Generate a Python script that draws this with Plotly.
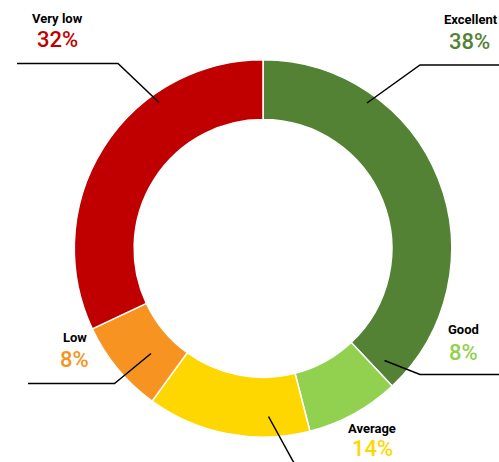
import plotly.graph_objects as go

# Data
categories = ["Excellent", "Good", "Average", "Low", "Very low"]
values = [38, 8, 14, 8, 32]
colors = ["#548235", "#92D050", "#FFD700", "#F79421", "#C00000"]

W, H = 499, 462
FONT = "Roboto, Liberation Sans Narrow, DejaVu Sans Condensed, sans-serif"

def px(x):
    return x / W

def py(y):
    return 1 - y / H

# Layout for labels (pixel positions of name / percent text and leader lines)
label_layout = {
    "Very low": {"name": (57, 18.5), "pct": (57, 40), "line": [(17, 63.5), (118, 63.5), (159, 102.5)]},
    "Excellent": {"name": (470.5, 20), "pct": (469.5, 41.5), "line": [(500, 65), (420, 65), (367, 103)]},
    "Low": {"name": (74.5, 337), "pct": (74, 359), "line": [(28, 383.5), (114.5, 383.5), (151, 353.5)]},
    "Good": {"name": (463.5, 329.5), "pct": (463.5, 352.5), "line": [(384.5, 360.5), (420, 374.5), (500, 374.5)]},
    "Average": {"name": (371.5, 428), "pct": (372, 448.5), "line": [(268.5, 416.5), (294, 463)]},
}

cx, cy, R = 263, 248.5, 188.7

fig = go.Figure(go.Pie(
    labels=categories,
    values=values,
    marker=dict(colors=colors, line=dict(color="white", width=1.5)),
    hole=0.683,
    sort=False,
    direction="clockwise",
    rotation=0,
    textinfo="none",
    hoverinfo="label+percent",
    showlegend=False,
    domain=dict(x=[px(cx - R), px(cx + R)], y=[py(cy + R), py(cy - R)]),
))

total = sum(values)
annotations = []
shapes = []
for cat, val, col in zip(categories, values, colors):
    lay = label_layout[cat]
    nx, ny = lay["name"]
    annotations.append(dict(
        x=px(nx), y=py(ny), xref="paper", yref="paper", showarrow=False,
        text="<b>%s</b>" % cat, xanchor="center", yanchor="middle",
        font=dict(family=FONT, size=13, color="black"),
    ))
    qx, qy = lay["pct"]
    annotations.append(dict(
        x=px(qx), y=py(qy), xref="paper", yref="paper", showarrow=False,
        text="%d%%" % round(100 * val / total), xanchor="center", yanchor="middle",
        font=dict(family=FONT, size=22, color=col, weight=500),
    ))
    pts = lay["line"]
    path = "M " + " L ".join("%f,%f" % (px(a), py(b)) for a, b in pts)
    shapes.append(dict(type="path", xref="paper", yref="paper", path=path,
                       line=dict(color="black", width=1.5)))

fig.update_layout(
    width=W, height=H,
    margin=dict(l=0, r=0, t=0, b=0),
    paper_bgcolor="white",
    plot_bgcolor="white",
    annotations=annotations,
    shapes=shapes,
)

fig.write_html(
    "out.html",
    config={"displayModeBar": False},
    post_script="document.body.style.margin='0';document.body.style.overflow='hidden';",
)
